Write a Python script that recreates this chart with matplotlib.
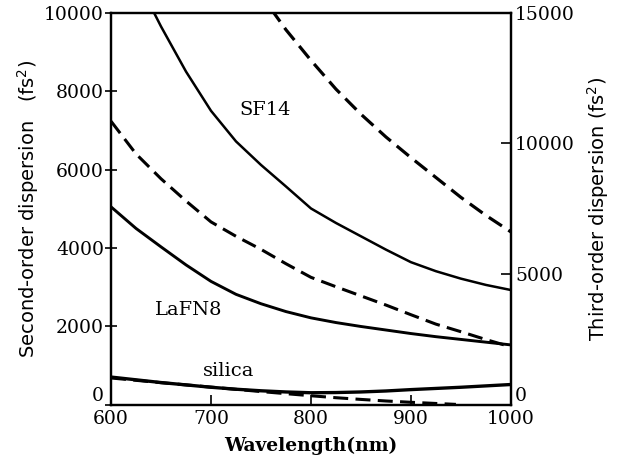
import matplotlib
matplotlib.use('Agg')
import matplotlib.pyplot as plt
import matplotlib.transforms as mtransforms

# wavelengths (nm)
wl = [600, 625, 650, 675, 700, 725, 750, 775, 800, 825, 850, 875, 900, 925, 950, 975, 1000]

# second-order dispersion (fs^2), left axis
sf14_gdd_wl = [642, 650, 675, 700, 725, 750, 775, 800, 825, 850, 875, 900, 925, 950, 975, 1000]
sf14_gdd = [10050, 9650, 8500, 7500, 6720, 6120, 5570, 5010, 4640, 4300, 3960, 3640, 3410, 3220, 3060, 2930]
lafn8_gdd = [5050, 4500, 4030, 3570, 3150, 2820, 2580, 2380, 2220, 2100, 2000, 1910, 1820, 1740, 1670, 1600, 1530]
silica_gdd = [710, 640, 570, 510, 450, 400, 360, 330, 310, 315, 330, 355, 390, 420, 450, 485, 520]

# third-order dispersion, right axis
sf14_tod_wl = [760, 775, 800, 825, 850, 875, 900, 925, 950, 975, 1000]
sf14_tod = [15150, 14350, 13180, 12080, 11120, 10250, 9460, 8700, 7940, 7250, 6620]
lafn8_tod = [10850, 9600, 8650, 7800, 7000, 6450, 5950, 5400, 4880, 4520, 4170, 3820, 3450, 3090, 2800, 2500, 2220]
silica_tod_wl = [600, 625, 650, 675, 700, 725, 750, 775, 800, 825, 850, 875, 900, 925, 945]
silica_tod = [1030, 940, 850, 765, 680, 595, 510, 430, 350, 275, 210, 150, 100, 55, 20]

labels = ['SF14', 'LaFN8', 'silica']
label_pos = [(754, 7530), (678, 2420), (718, 870)]

serif = 'DejaVu Serif'
dash = (0, (4.9, 2.4))

fig = plt.figure(figsize=(6.17, 4.57), dpi=100)
ax = fig.add_axes([0.180, 0.114, 0.648, 0.858])
ax2 = ax.twinx()

ax.plot(sf14_gdd_wl, sf14_gdd, color='black', lw=1.8)
ax.plot(wl, lafn8_gdd, color='black', lw=2.1)
ax.plot(wl, silica_gdd, color='black', lw=2.4)

ax2.plot(sf14_tod_wl, sf14_tod, color='black', lw=2.3, linestyle=dash)
ax2.plot(wl, lafn8_tod, color='black', lw=2.2, linestyle=dash)
ax2.plot(silica_tod_wl, silica_tod, color='black', lw=2.2, linestyle=dash)

ax.set_xlim(600, 1000)
ax.set_ylim(0, 10000)
ax2.set_ylim(0, 15000)

ax.set_xticks([600, 700, 800, 900, 1000])
ax.set_yticks([0, 2000, 4000, 6000, 8000, 10000])
ax2.set_yticks([0, 5000, 10000, 15000])

for t, (x, y) in zip(labels, label_pos):
    ax.text(x, y, t, ha='center', va='center', fontsize=14, family=serif)

ax.tick_params(axis='y', direction='inout', length=8, width=1.2, labelsize=13.5, pad=1)
ax.tick_params(axis='x', direction='in', length=7, width=1.2, labelsize=13.5, pad=4)
ax2.tick_params(axis='y', direction='in', length=7, width=1.2, labelsize=13.5, pad=3)
for lab in ax.get_xticklabels() + ax.get_yticklabels() + ax2.get_yticklabels():
    lab.set_family(serif)

# lift the two "0" labels off the corners like the original
up = mtransforms.ScaledTranslation(0, 8 / 72, fig.dpi_scale_trans)
ax.get_yticklabels()[0].set_transform(ax.get_yticklabels()[0].get_transform() + up)
ax2.get_yticklabels()[0].set_transform(ax2.get_yticklabels()[0].get_transform() + up)

for a in (ax, ax2):
    for s in a.spines.values():
        s.set_linewidth(1.6)

ax.set_xlabel('Wavelength(nm)', fontsize=13.5, family=serif, fontweight='bold', labelpad=6)
ax.set_ylabel('Second-order dispersion   (fs$^2$)', fontsize=14, family='DejaVu Sans', labelpad=2)
ax2.set_ylabel('Third-order dispersion (fs$^2$)', fontsize=14, family='DejaVu Sans', labelpad=7)

plt.savefig('out.png', dpi=100)
